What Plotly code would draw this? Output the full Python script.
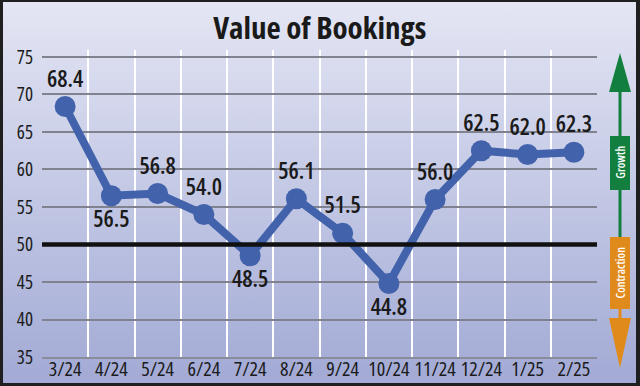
import base64
import plotly.graph_objects as go

months = ["3/24", "4/24", "5/24", "6/24", "7/24", "8/24", "9/24", "10/24", "11/24", "12/24", "1/25", "2/25"]
values = [68.4, 56.5, 56.8, 54.0, 48.5, 56.1, 51.5, 44.8, 56.0, 62.5, 62.0, 62.3]
label_pos = ["top center", "bottom center", "top center", "top center", "bottom center", "top center",
             "top center", "bottom center", "top center", "top center", "top center", "top center"]
y_ticks = [35, 40, 45, 50, 55, 60, 65, 70, 75]
title_text = "Value of Bookings"
growth_label = "Growth"
contraction_label = "Contraction"
threshold = 50

W, H = 640, 386
L, R, T, B = 42, 43, 50, 29
PW, PH = W - L - R, H - T - B

def px(x):
    return (x - L) / PW

def py(y):
    return (H - B - y) / PH

FONT = "Open Sans, sans-serif"

x = list(range(len(months)))

fig = go.Figure()
fig.add_trace(go.Scatter(
    x=x, y=values, mode="lines+markers+text",
    line=dict(color="#4263ab", width=8),
    marker=dict(color="#4263ab", size=21),
    text=[f"{v:.1f}" for v in values],
    textposition=label_pos,
    textfont=dict(family=FONT, size=23, color="#1a1a1a", weight=600),
    cliponaxis=False, hoverinfo="skip",
))

svg = (
    '<svg xmlns="http://www.w3.org/2000/svg" width="100" height="100" preserveAspectRatio="none">'
    '<defs><linearGradient id="g" x1="0" y1="0" x2="0" y2="1">'
    '<stop offset="0" stop-color="#e4e6f4"/><stop offset="1" stop-color="#a2aad5"/>'
    '</linearGradient></defs><rect width="100" height="100" fill="url(#g)"/></svg>'
)
src = "data:image/svg+xml;base64," + base64.b64encode(svg.encode()).decode()

shapes = []
shapes.append(dict(type="line", xref="x", yref="y", x0=-0.5, x1=len(months) - 0.5,
                   y0=threshold, y1=threshold, line=dict(color="#111111", width=4.5), layer="above"))

cx = 620
green = "#137f3e"
orange = "#e08a1b"
shapes.append(dict(type="rect", xref="paper", yref="paper", x0=px(cx - 1.5), x1=px(cx + 1.5),
                   y0=py(243), y1=py(90), fillcolor=green, line=dict(width=0)))
shapes.append(dict(type="path", xref="paper", yref="paper",
                   path=f"M {px(cx-11)},{py(92)} L {px(cx+11)},{py(92)} L {px(cx)},{py(53)} Z",
                   fillcolor=green, line=dict(width=0)))
shapes.append(dict(type="rect", xref="paper", yref="paper", x0=px(cx - 10), x1=px(cx + 10),
                   y0=py(190), y1=py(136), fillcolor=green, line=dict(width=0)))
shapes.append(dict(type="rect", xref="paper", yref="paper", x0=px(cx - 1.5), x1=px(cx + 1.5),
                   y0=py(320), y1=py(243), fillcolor=orange, line=dict(width=0)))
shapes.append(dict(type="path", xref="paper", yref="paper",
                   path=f"M {px(cx-11)},{py(318)} L {px(cx+11)},{py(318)} L {px(cx)},{py(368)} Z",
                   fillcolor=orange, line=dict(width=0)))
shapes.append(dict(type="rect", xref="paper", yref="paper", x0=px(cx - 10), x1=px(cx + 10),
                   y0=py(309), y1=py(237), fillcolor=orange, line=dict(width=0)))

annotations = [
    dict(text=title_text, xref="paper", yref="paper", x=px(320), y=py(27),
         showarrow=False, font=dict(family=FONT, size=31, color="#1a1a1a", weight=700),
         xanchor="center", yanchor="middle"),
    dict(text=growth_label, xref="paper", yref="paper", x=px(cx), y=py(163), textangle=-90,
         showarrow=False, font=dict(family=FONT, size=12, color="white", weight=600), xanchor="center", yanchor="middle"),
    dict(text=contraction_label, xref="paper", yref="paper", x=px(cx), y=py(273), textangle=-90,
         showarrow=False, font=dict(family=FONT, size=12, color="white", weight=600), xanchor="center", yanchor="middle"),
]

fig.update_layout(
    width=W, height=H,
    margin=dict(l=L, r=R, t=T, b=B, pad=0, autoexpand=False),
    paper_bgcolor="#1f1f1f",
    plot_bgcolor="rgba(0,0,0,0)",
    showlegend=False,
    shapes=shapes,
    annotations=annotations,
    images=[dict(source=src, xref="paper", yref="paper", x=px(3), y=py(2),
                 sizex=px(636) - px(3), sizey=py(2) - py(383), sizing="stretch",
                 xanchor="left", yanchor="top", layer="below")],
    xaxis=dict(
        range=[-0.5, len(months) - 0.5], automargin=False, tickangle=0,
        tickvals=x, ticktext=months, showgrid=False, zeroline=False,
        ticks="", tickfont=dict(family=FONT, size=20, color="#1a1a1a", weight=500),
        ticklabelstandoff=-7,
        showline=True, linecolor="#8a8c9c", linewidth=2,
        minor=dict(tickvals=[i - 0.5 for i in range(len(months) + 1)], showgrid=True,
                   gridcolor="white", gridwidth=2, ticks=""),
        fixedrange=True,
    ),
    yaxis=dict(
        range=[35, 75.93], automargin=False, tickvals=y_ticks, showgrid=True, gridcolor="#80828f", gridwidth=2,
        zeroline=False, ticks="", tickfont=dict(family=FONT, size=19, color="#1a1a1a", weight=500),
        ticklabelstandoff=8, fixedrange=True,
    ),
)

post = (
    "document.body.style.margin='0';document.body.style.padding='0';"
    "var s=document.createElement('style');"
    "s.textContent='html,body{margin:0;padding:0;overflow:hidden;} .js-plotly-plot text{font-stretch:condensed !important;}';"
    "document.head.appendChild(s);"
)
fig.write_html("out.html", post_script=post, config={"displayModeBar": False, "staticPlot": True})
